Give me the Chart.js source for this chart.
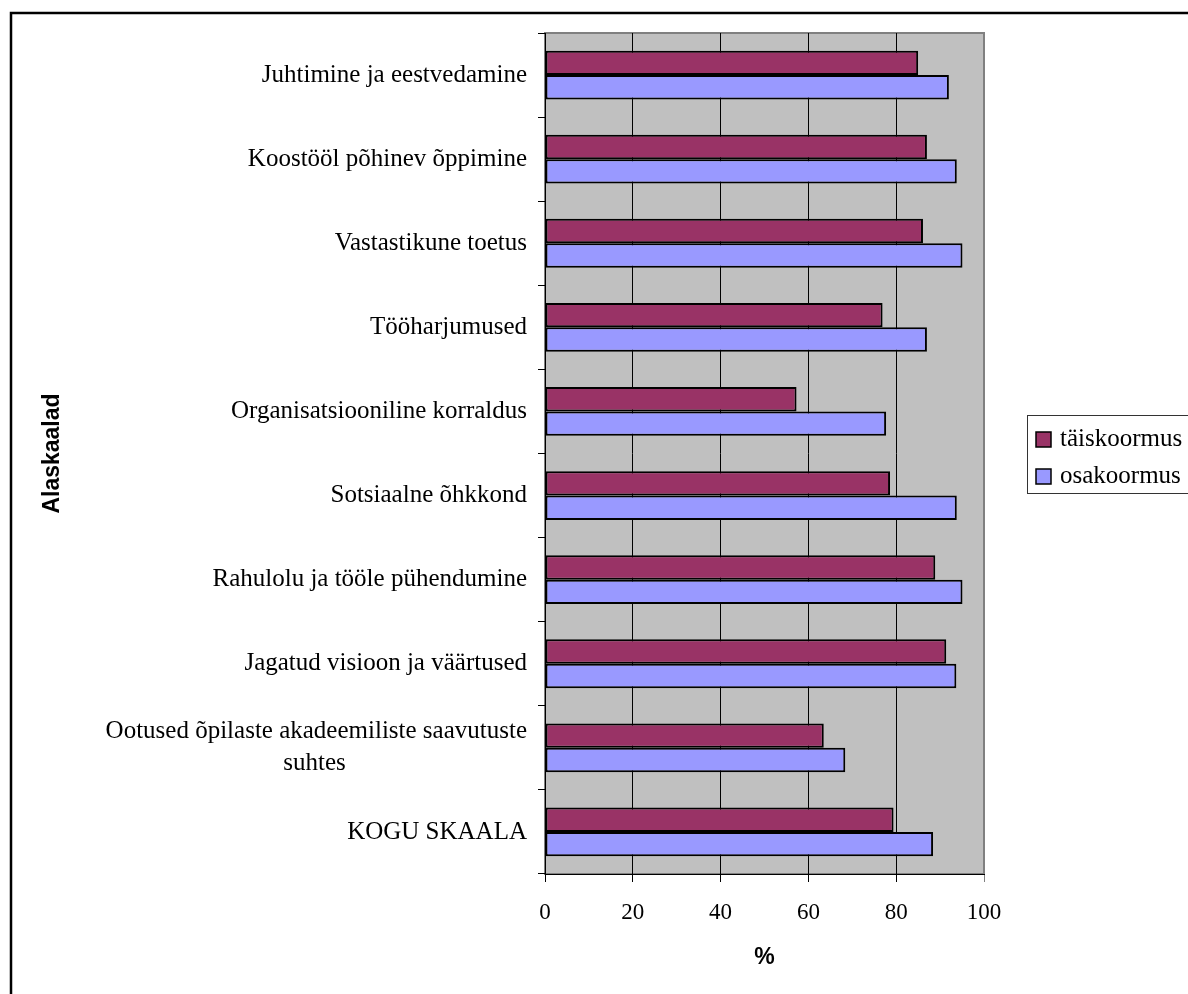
<!DOCTYPE html>
<html>
<head>
<meta charset="utf-8">
<script src="https://cdn.jsdelivr.net/npm/chart.js@4/dist/chart.umd.min.js"></script>
<style>
  body { margin: 0; background: #fff; }
  canvas { display: block; }
</style>
</head>
<body>
<canvas id="chart" width="1188" height="994"></canvas>
<script>
var categories = [
  'Juhtimine ja eestvedamine',
  'Koostööl põhinev õppimine',
  'Vastastikune toetus',
  'Tööharjumused',
  'Organisatsiooniline korraldus',
  'Sotsiaalne õhkkond',
  'Rahulolu ja tööle pühendumine',
  'Jagatud visioon ja väärtused',
  ['Ootused õpilaste akadeemiliste saavutuste', 'suhtes'],
  'KOGU SKAALA'
];
var seriesNames = ['täiskoormus', 'osakoormus'];
var taiskoormus = [85, 87, 86.1, 76.9, 57.3, 78.6, 88.9, 91.4, 63.5, 79.4];
var osakoormus = [92, 93.8, 95.1, 87, 77.7, 93.8, 95.1, 93.7, 68.4, 88.4];
var xTicks = [0, 20, 40, 60, 80, 100];

var serif = 'Liberation Serif';
var sans = 'Liberation Sans';
var labelFont = '25px "' + serif + '"';

// the original centres the wrapped line under the first one,
// chart.js right-aligns them, so pad the short line with spaces
var measure = document.createElement('canvas').getContext('2d');
function centreLines(label) {
  if (!Array.isArray(label)) return label;
  measure.font = labelFont;
  var full = Math.max.apply(null, label.map(function(l) { return measure.measureText(l).width; }));
  var space = measure.measureText(' ').width;
  return label.map(function(l) {
    var n = Math.round((full - measure.measureText(l).width) / 2 / space);
    return l + ' '.repeat(n);
  });
}

// grey plot area, outer frame
var backdrop = {
  id: 'backdrop',
  beforeDraw: function(chart) {
    var ctx = chart.ctx;
    var a = chart.chartArea;
    ctx.save();
    ctx.fillStyle = '#ffffff';
    ctx.fillRect(0, 0, chart.width, chart.height);
    ctx.fillStyle = '#c0c0c0';
    ctx.fillRect(a.left, a.top, a.right - a.left, a.bottom - a.top);
    ctx.strokeStyle = '#808080';
    ctx.lineWidth = 2;
    ctx.strokeRect(a.left, a.top, a.right - a.left, a.bottom - a.top);
    ctx.strokeStyle = '#000';
    ctx.lineWidth = 2.5;
    ctx.beginPath();
    ctx.moveTo(11, chart.height + 5);
    ctx.lineTo(11, 13);
    ctx.lineTo(chart.width + 5, 13);
    ctx.stroke();
    ctx.restore();
  }
};

// legend box at the right, like the original
var boxLegend = {
  id: 'boxLegend',
  afterDraw: function(chart) {
    var ctx = chart.ctx;
    ctx.save();
    ctx.strokeStyle = '#333';
    ctx.lineWidth = 1;
    ctx.strokeRect(1027.5, 415.5, 200, 78);
    ctx.font = labelFont;
    ctx.textBaseline = 'middle';
    chart.data.datasets.forEach(function(ds, i) {
      var y = 439 + i * 37;
      ctx.fillStyle = ds.backgroundColor;
      ctx.fillRect(1036, y - 7, 15, 15);
      ctx.strokeStyle = '#000';
      ctx.lineWidth = 1.5;
      ctx.strokeRect(1036, y - 7, 15, 15);
      ctx.fillStyle = '#000';
      ctx.fillText(ds.label, 1060, y);
    });
    ctx.restore();
  }
};

new Chart(document.getElementById('chart'), {
  type: 'bar',
  data: {
    labels: categories,
    datasets: [{
      label: seriesNames[0],
      data: taiskoormus,
      backgroundColor: '#993366',
      borderColor: '#000',
      borderWidth: 2,
      borderSkipped: false
    }, {
      label: seriesNames[1],
      data: osakoormus,
      backgroundColor: '#9999ff',
      borderColor: '#000',
      borderWidth: 2,
      borderSkipped: false
    }]
  },
  plugins: [backdrop, boxLegend],
  options: {
    indexAxis: 'y',
    responsive: false,
    animation: false,
    categoryPercentage: 0.58,
    barPercentage: 1.0,
    layout: { padding: { top: 33, right: 204, bottom: 0, left: 0 } },
    plugins: {
      legend: { display: false },
      tooltip: { enabled: false }
    },
    scales: {
      x: {
        min: 0,
        max: 100,
        afterFit: function(scale) { scale.height = 120; },
        afterBuildTicks: function(scale) {
          scale.ticks = xTicks.map(function(v) { return { value: v }; });
        },
        ticks: {
          color: '#000',
          padding: 17,
          maxRotation: 0,
          font: { family: serif, size: 23 }
        },
        grid: {
          color: function(c) { return c.tick && c.tick.value === 100 ? '#808080' : '#000'; },
          lineWidth: 1,
          tickLength: 8
        },
        border: { color: '#000', width: 1 },
        title: {
          display: true,
          text: '%',
          color: '#000',
          font: { family: sans, size: 23, weight: 'bold' },
          padding: { top: 0, bottom: 23 }
        }
      },
      y: {
        afterFit: function(scale) { scale.width = 545; },
        ticks: {
          color: '#000',
          padding: 11,
          font: { family: serif, size: 25, lineHeight: 1.28 },
          callback: function(value) { return centreLines(this.getLabelForValue(value)); }
        },
        grid: {
          offset: true,
          drawOnChartArea: false,
          color: '#000',
          tickLength: 7
        },
        border: { color: '#000', width: 1 },
        title: {
          display: true,
          text: 'Alaskaalad',
          color: '#000',
          font: { family: sans, size: 23, weight: 'bold' },
          padding: { top: 39, bottom: 0 }
        }
      }
    }
  }
});
</script>
</body>
</html>
